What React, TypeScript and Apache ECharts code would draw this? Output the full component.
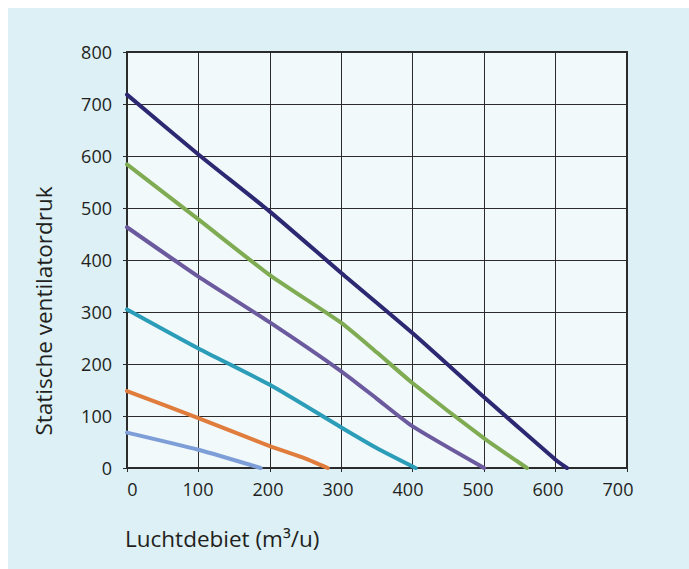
import React, { useEffect, useRef } from "react";
import * as echarts from "echarts";

const X_TICKS = [0, 100, 200, 300, 400, 500, 600, 700];
const Y_TICKS = [0, 100, 200, 300, 400, 500, 600, 700, 800];

const curveNavy = [[0, 718], [100, 603], [200, 493], [300, 375], [400, 259], [500, 136], [600, 16], [616, 0]];
const curveGreen = [[0, 584], [100, 478], [200, 371], [300, 279], [350, 222], [400, 163], [500, 57], [560, 0]];
const curvePurple = [[0, 463], [100, 368], [200, 280], [300, 186], [350, 133], [400, 80], [500, 0]];
const curveTeal = [[0, 305], [100, 230], [200, 160], [300, 78], [350, 38], [404, 0]];
const curveOrange = [[0, 148], [100, 96], [200, 42], [250, 18], [281, 0]];
const curveLightBlue = [[0, 68], [100, 35], [187, 0]];

const SERIES = [
  { name: "Curve 1", data: curveNavy, color: "#2e2873" },
  { name: "Curve 2", data: curveGreen, color: "#7fab52" },
  { name: "Curve 3", data: curvePurple, color: "#6c5a9e" },
  { name: "Curve 4", data: curveTeal, color: "#2b9db8" },
  { name: "Curve 5", data: curveOrange, color: "#e07d3c" },
  { name: "Curve 6", data: curveLightBlue, color: "#7e9ed8" },
];

const FONT = '"Open Sans", "Noto Sans", sans-serif';
const TEXT = "#231f20";
const LINE = "#2b2b2b";

export default function App() {
  const ref = useRef<HTMLDivElement>(null);
  useEffect(() => {
    if (!ref.current) return;
    const chart = echarts.init(ref.current, null, { renderer: "svg" });
    chart.setOption({
      animation: false,
      backgroundColor: "#dcf0f5",
      grid: {
        left: 119,
        top: 44,
        width: 500,
        height: 416,
        show: true,
        backgroundColor: "#f1f9fb",
        borderColor: LINE,
        borderWidth: 2,
      },
      xAxis: [
        {
          type: "value",
          min: 0,
          max: 700,
          interval: 100,
          axisLine: { show: true, lineStyle: { color: LINE, width: 2 } },
          axisTick: { show: true, length: 4, lineStyle: { color: LINE, width: 1 } },
          axisLabel: { show: false },
          splitLine: { show: true, lineStyle: { color: LINE, width: 1 } },
        },
        {
          type: "value",
          position: "bottom",
          min: -1.43,
          max: 712.86,
          axisLine: { show: false },
          axisTick: { show: false },
          splitLine: { show: false },
          axisLabel: {
            show: true,
            customValues: X_TICKS,
            margin: 12,
            fontSize: 18,
            fontFamily: FONT,
            color: TEXT,
            formatter: (v: number) => (v === 0 ? "{z|0}" : String(v)),
            rich: {
              z: { padding: [0, 0, 0, 9], fontSize: 18, fontFamily: FONT, color: TEXT },
            },
          },
        },
      ],
      yAxis: {
        type: "value",
        min: 0,
        max: 800,
        interval: 100,
        axisLine: { show: true, lineStyle: { color: LINE, width: 2 } },
        axisTick: { show: true, length: 4, lineStyle: { color: LINE, width: 1 } },
        axisLabel: {
          margin: 15,
          fontSize: 18,
          fontFamily: FONT,
          color: TEXT,
          customValues: Y_TICKS,
        },
        splitLine: { show: true, lineStyle: { color: LINE, width: 1 } },
      },
      graphic: [
        {
          type: "text",
          x: 35,
          y: 303,
          rotation: Math.PI / 2,
          style: {
            text: "Statische ventilatordruk",
            font: `22.5px ${FONT}`,
            fill: TEXT,
            textAlign: "center",
            textVerticalAlign: "middle",
            align: "center",
            verticalAlign: "middle",
          },
        },
        {
          type: "text",
          x: 117,
          y: 530,
          style: {
            text: "Luchtdebiet (m³/u)",
            font: `22.5px ${FONT}`,
            fill: TEXT,
            textAlign: "left",
            textVerticalAlign: "middle",
            align: "left",
            verticalAlign: "middle",
          },
        },
      ],
      series: SERIES.map((s) => ({
        name: s.name,
        type: "line",
        xAxisIndex: 0,
        yAxisIndex: 0,
        data: s.data,
        symbol: "none",
        showSymbol: false,
        smooth: 0.2,
        lineStyle: { color: s.color, width: 4, cap: "round" },
        itemStyle: { color: s.color },
      })),
    });
    return () => chart.dispose();
  }, []);
  return (
    <div
      ref={ref}
      style={{ position: "fixed", left: 8, top: 8, width: 681, height: 561 }}
    />
  );
}
